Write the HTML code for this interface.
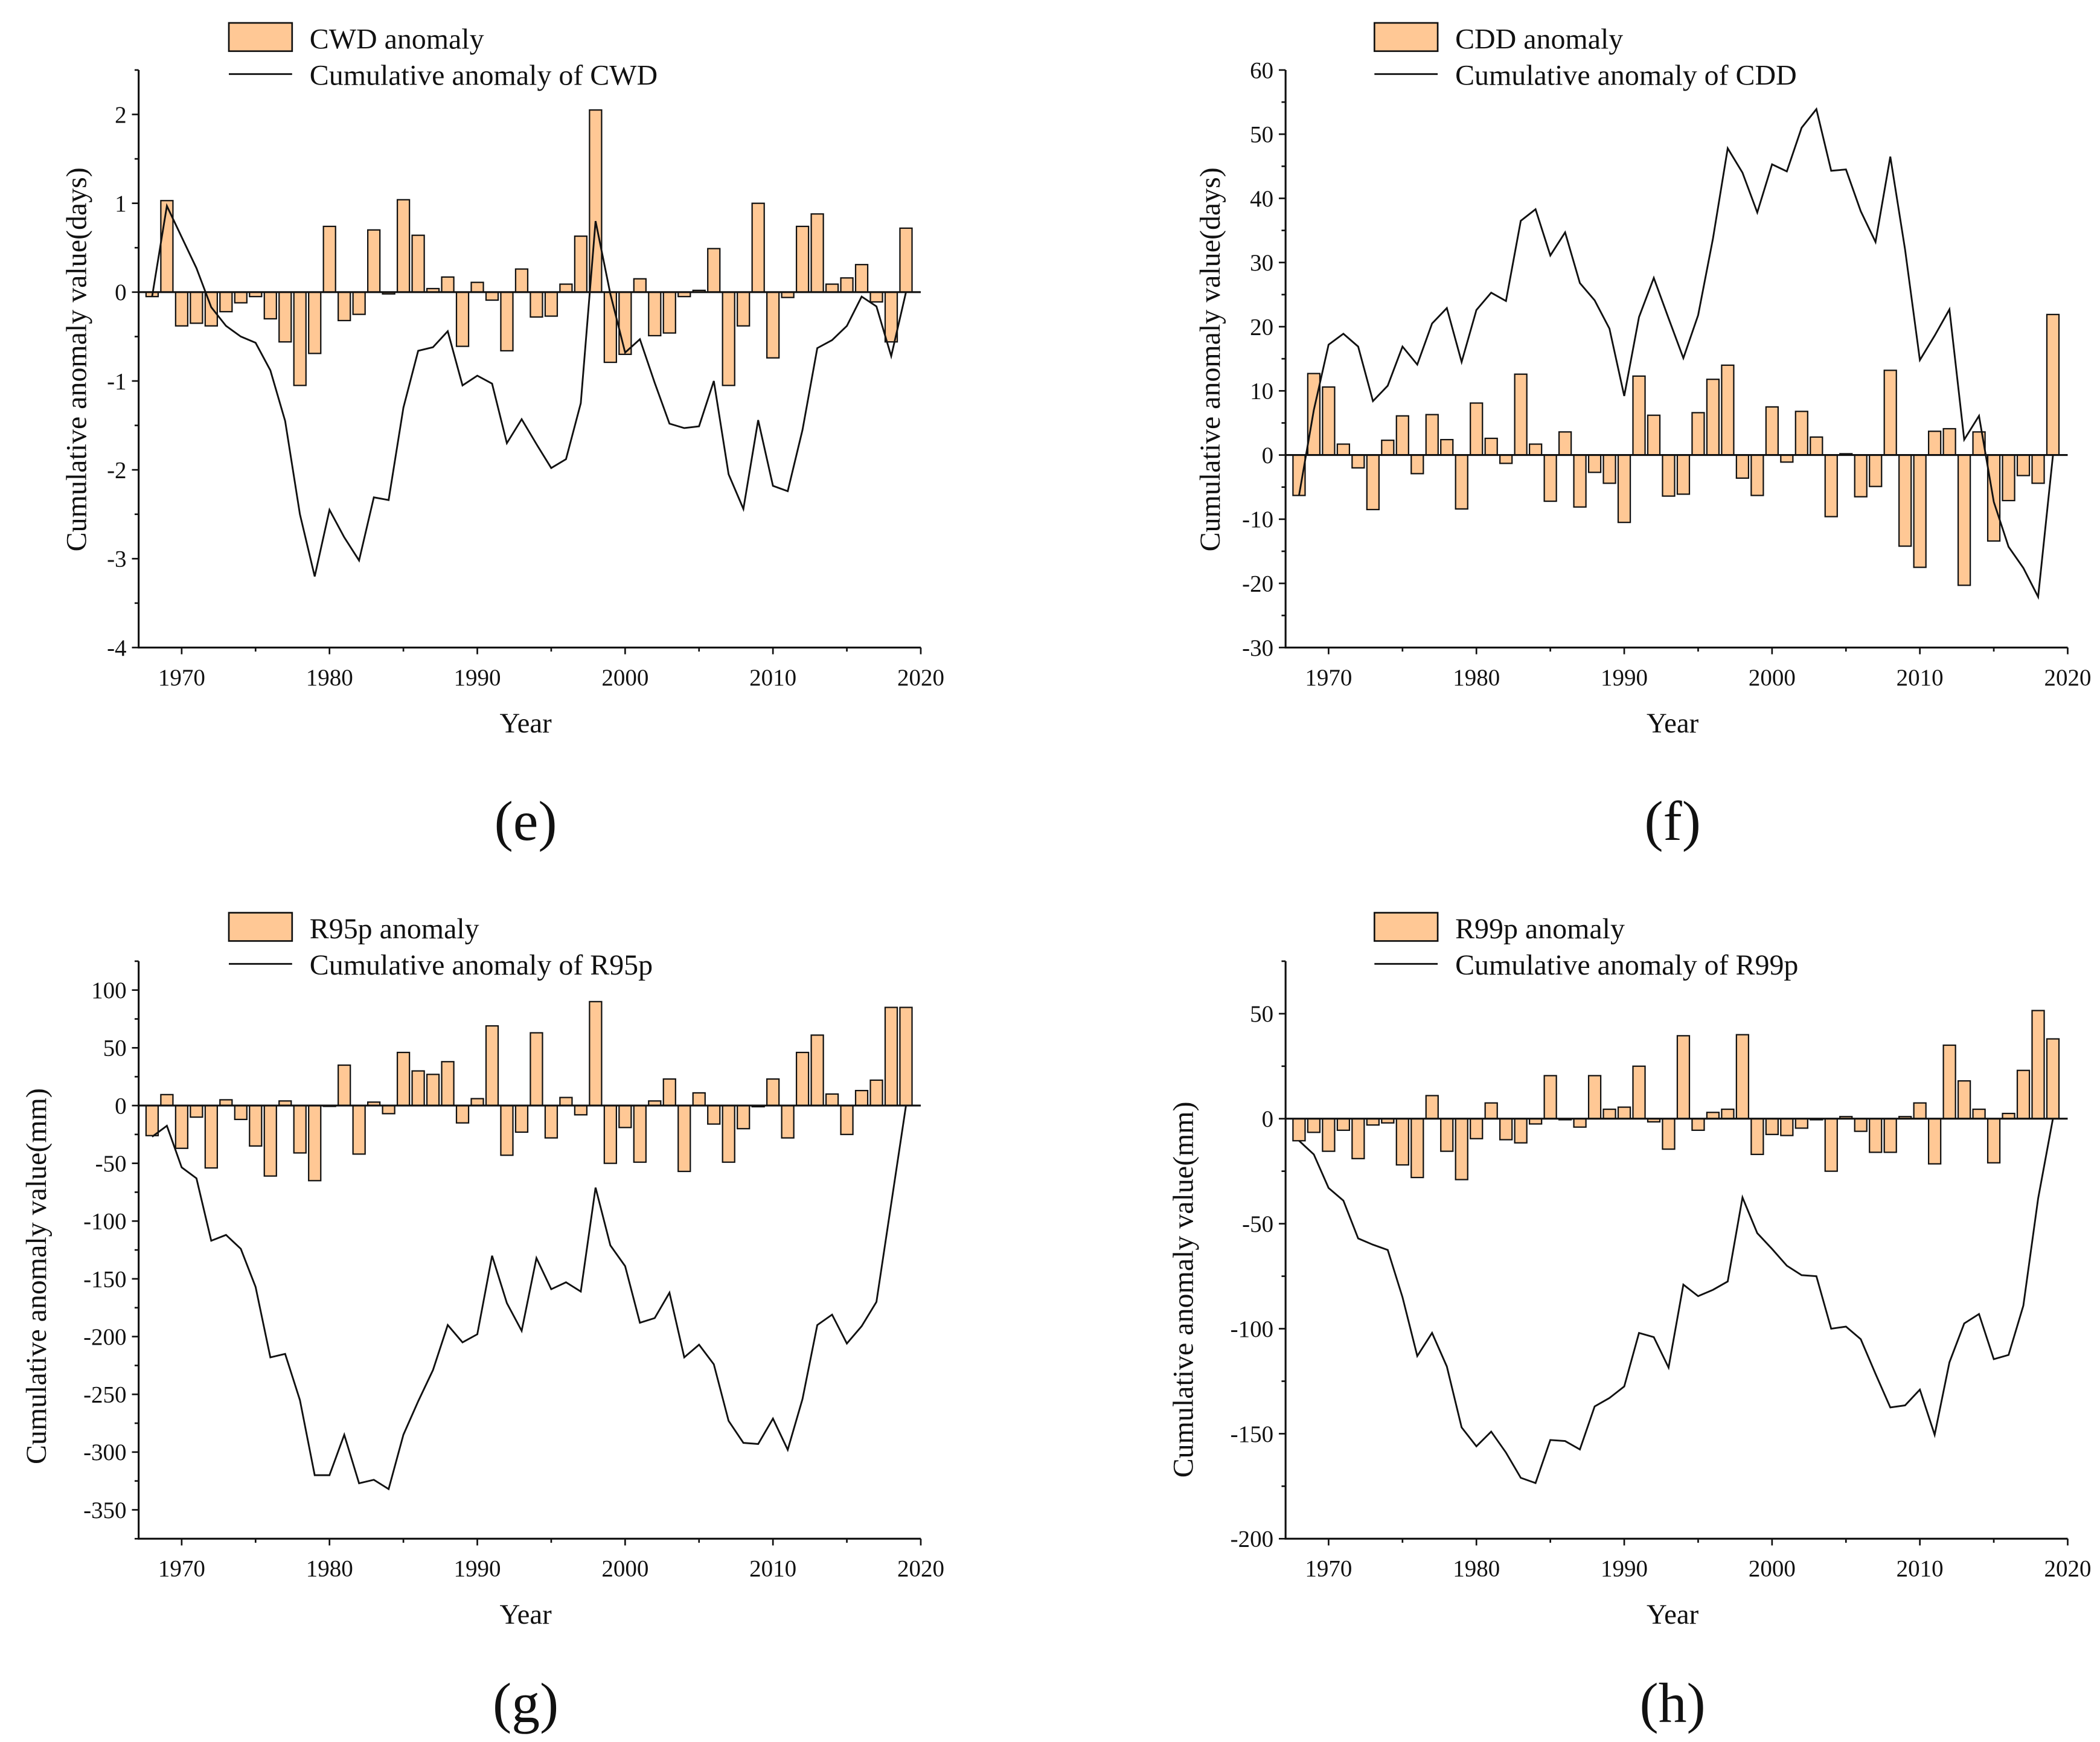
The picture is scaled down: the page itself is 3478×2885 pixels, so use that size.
<!DOCTYPE html>
<html><head><meta charset="utf-8"><style>
html,body{margin:0;padding:0;background:#fff;}
svg{display:block;}
text{font-family:"Liberation Serif",serif;fill:#111;}
</style></head><body>
<svg id="fig" width="3478" height="2885" viewBox="0 0 1560 1294" xmlns="http://www.w3.org/2000/svg"></svg>
<script>
const years = [];
for (let y = 1968; y <= 2019; y++) years.push(y);
const xTicks = [1970, 1980, 1990, 2000, 2010, 2020];

const cwdBars = [-0.05,1.03,-0.38,-0.35,-0.38,-0.22,-0.12,-0.05,-0.3,-0.56,-1.05,-0.69,0.74,-0.32,-0.25,0.7,-0.02,1.04,0.64,0.04,0.17,-0.61,0.11,-0.09,-0.66,0.26,-0.28,-0.27,0.09,0.63,2.05,-0.79,-0.7,0.15,-0.49,-0.46,-0.05,0.02,0.49,-1.05,-0.38,1.0,-0.74,-0.06,0.74,0.88,0.09,0.16,0.31,-0.11,-0.56,0.72];
const cwdLine = [-0.05,0.97,0.62,0.27,-0.17,-0.38,-0.5,-0.57,-0.88,-1.45,-2.5,-3.2,-2.45,-2.76,-3.02,-2.31,-2.34,-1.3,-0.66,-0.62,-0.44,-1.05,-0.94,-1.03,-1.7,-1.43,-1.71,-1.98,-1.88,-1.25,0.8,-0.02,-0.68,-0.53,-1.02,-1.48,-1.53,-1.51,-1.0,-2.05,-2.44,-1.44,-2.18,-2.24,-1.55,-0.63,-0.54,-0.38,-0.05,-0.16,-0.72,0.0];
const cwdTicks = [-4,-3,-2,-1,0,1,2];

const cddBars = [-6.3,12.7,10.6,1.7,-2,-8.5,2.3,6.1,-2.9,6.3,2.4,-8.4,8.1,2.6,-1.3,12.6,1.7,-7.2,3.6,-8.1,-2.7,-4.4,-10.5,12.3,6.2,-6.4,-6.1,6.6,11.8,14,-3.6,-6.3,7.5,-1.1,6.8,2.8,-9.6,0.2,-6.5,-4.9,13.2,-14.2,-17.5,3.7,4.1,-20.3,3.6,-13.4,-7.1,-3.2,-4.4,21.9];
const cddLine = [-6.3,7,17.2,18.9,16.9,8.4,10.8,16.9,14.1,20.5,22.9,14.5,22.6,25.3,24,36.5,38.3,31.1,34.7,26.8,24.1,19.7,9.2,21.5,27.6,21.3,15.1,21.8,33.7,47.8,44,37.8,45.3,44.2,51,53.9,44.3,44.5,38,33.2,46.5,32,14.8,18.6,22.7,2.4,6.1,-7.3,-14.3,-17.6,-22.1,-0.1];
const cddTicks = [-30,-20,-10,0,10,20,30,40,50,60];

const r95Bars = [-26,9.5,-37,-10,-54,5,-12,-35,-61,4,-41,-65,0,35,-42,3,-7,46,30,27,38,-15,6,69,-43,-23,63,-28,7,-8,90,-50,-19,-49,4,23,-57,11,-16,-49,-20,-1,23,-28,46,61,10,-25,13,22,85,85];
const r95Line = [-27,-17.5,-53.5,-63,-117,-112,-124,-157,-218,-215,-255,-320,-320,-285,-327,-324,-332,-285,-256,-229,-190,-205,-198,-130,-171,-195,-132,-159,-153,-161,-71,-121,-139,-188,-184,-162,-218,-207,-224,-273,-292,-293,-271,-298,-254,-190,-181,-206,-191,-170,-85,0];
const r95Ticks = [-350,-300,-250,-200,-150,-100,-50,0,50,100];

const r99Bars = [-10.5,-6.5,-15.5,-5.5,-19,-3,-2,-22,-28,11,-15.5,-29,-9.5,7.5,-10,-11.5,-2.5,20.5,-0.5,-4,20.5,4.5,5.5,25,-1.5,-14.5,39.5,-5.5,3,4.5,40,-17,-7.5,-8,-4.5,-0.5,-25,1,-6,-16,-16,1,7.5,-21.5,35,18,4.5,-21,2.5,23,51.5,38];
const r99Line = [-10.5,-17,-33,-39,-57,-60,-62.5,-85,-113,-102,-118,-147,-156,-149,-159,-171,-173.5,-153,-153.5,-157.5,-137,-133,-127.5,-102,-104,-118.5,-79,-84.5,-81.5,-77.5,-37.5,-54.5,-62,-70,-74.5,-75,-100,-99,-105,-121.5,-137.5,-136.5,-129,-150.5,-116,-97.5,-93,-114.5,-112.5,-89,-38,0];
const r99Ticks = [-200,-150,-100,-50,0,50];

const NS = "http://www.w3.org/2000/svg";
const svg = document.getElementById('fig');
function mk(tag, attrs, parent, txt) {
  const e = document.createElementNS(NS, tag);
  for (const k in attrs) e.setAttribute(k, attrs[k]);
  if (txt !== undefined) e.textContent = txt;
  (parent || svg).appendChild(e);
  return e;
}

function panel(p) {
  const g = mk('g', {});
  
  
  const xScale = v => p.x0 + (v - 1967.09) * (p.x1 - p.x0) / (2020 - 1967.09);
  const yScale = v => p.yb - (v - p.ymin) * (p.yb - p.yt) / (p.ymax - p.ymin);

  const bw = 9;
  p.bars.forEach((v, i) => {
    const cx = xScale(years[i]);
    const y0 = yScale(0), y1 = yScale(v);
    const r = mk('rect', {x: cx - bw/2, y: Math.min(y0, y1), width: bw, height: Math.max(Math.abs(y1 - y0), 0.6), fill: '#FFC895', stroke: '#111', 'stroke-width': 1}, g);
    
    
  });
  const zl = mk('line', {x1: p.x0, x2: p.x1, y1: yScale(0), y2: yScale(0), stroke: '#111', 'stroke-width': 1.4}, g);
  
  
  const pts = p.line.map((v, i) => xScale(years[i]).toFixed(2) + ',' + yScale(v).toFixed(2)).join(' ');
  const pl = mk('polyline', {points: pts, fill: 'none', stroke: '#111', 'stroke-width': 1.3}, g);
  
  

  const ax = mk('path', {d: `M${p.x0},${p.yt} L${p.x0},${p.yb} L${p.x1},${p.yb}`, fill: 'none', stroke: '#111', 'stroke-width': 1.4}, g);
  
  
  for (let v = p.ymin; v <= p.ymax + 1e-9; v += p.minor) {
    const yy = yScale(v);
    const major = p.yticks.some(t => Math.abs(t - v) < 1e-6);
    mk('line', {x1: p.x0 - (major ? 5 : 3), x2: p.x0, y1: yy, y2: yy, stroke: '#111', 'stroke-width': 1.2}, g);
  }
  p.yticks.forEach(t => {
    const tl = mk('text', {x: p.x0 - 9, y: yScale(t) + 6, 'text-anchor': 'end', 'font-size': 17.5}, g, String(t));
    
    
  });
  for (let yr = 1970; yr <= 2020; yr += 5) {
    const xx = xScale(yr);
    mk('line', {x1: xx, x2: xx, y1: p.yb, y2: p.yb + (yr % 10 === 0 ? 5 : 3), stroke: '#111', 'stroke-width': 1.2}, g);
  }
  xTicks.forEach(t => {
    const tl = mk('text', {x: xScale(t), y: p.yb + 28, 'text-anchor': 'middle', 'font-size': 17.5}, g, String(t));
    
    
  });
  const xt = mk('text', {x: (p.x0 + p.x1) / 2 - 3, y: p.yb + 63, 'text-anchor': 'middle', 'font-size': 21}, g, 'Year');
  
  
  const yt = mk('text', {x: 0, y: 0, 'text-anchor': 'middle', 'font-size': 21.5, transform: `translate(${p.ytx},${p.yty}) rotate(-90)`}, g, p.ytitle);
  
  
  const pl2 = mk('text', {x: (p.x0 + p.x1) / 2 - 3, y: p.yb + p.lblOff, 'text-anchor': 'middle', 'font-size': 42}, g, p.label);
  
  

  const lg = mk('g', {}, g);
  
  
  mk('rect', {x: p.lx, y: p.ly, width: 47, height: 21, fill: '#FFC895', stroke: '#111', 'stroke-width': 1.2}, lg);
  mk('text', {x: p.lx + 60, y: p.ly + 19, 'font-size': 21.5}, lg, p.name + ' anomaly');
  mk('line', {x1: p.lx, x2: p.lx + 47, y1: p.ly + 38, y2: p.ly + 38, stroke: '#111', 'stroke-width': 1.3}, lg);
  mk('text', {x: p.lx + 60, y: p.ly + 46, 'font-size': 21.5}, lg, 'Cumulative anomaly of ' + p.name);
}

panel({id:'e', name:'CWD', label:'(e)', lblOff:143, x0:103, x1:684, yt:52, yb:481, ymin:-4, ymax:2.5, minor:0.5, yticks:cwdTicks, bars:cwdBars, line:cwdLine, ytitle:'Cumulative anomaly value(days)', ytx:64, yty:267, lx:170, ly:17});
panel({id:'f', name:'CDD', label:'(f)', lblOff:143, x0:955, x1:1536, yt:52, yb:481, ymin:-30, ymax:60, minor:5, yticks:cddTicks, bars:cddBars, line:cddLine, ytitle:'Cumulative anomaly value(days)', ytx:906, yty:267, lx:1021, ly:17});
panel({id:'g', name:'R95p', label:'(g)', lblOff:136, x0:103, x1:684, yt:714, yb:1143, ymin:-375, ymax:125, minor:25, yticks:r95Ticks, bars:r95Bars, line:r95Line, ytitle:'Cumulative anomaly value(mm)', ytx:34, yty:948, lx:170, ly:678});
panel({id:'h', name:'R99p', label:'(h)', lblOff:136, x0:955, x1:1536, yt:714, yb:1143, ymin:-200, ymax:75, minor:25, yticks:r99Ticks, bars:r99Bars, line:r99Line, ytitle:'Cumulative anomaly value(mm)', ytx:886, yty:958, lx:1021, ly:678});
</script>
</body></html>
